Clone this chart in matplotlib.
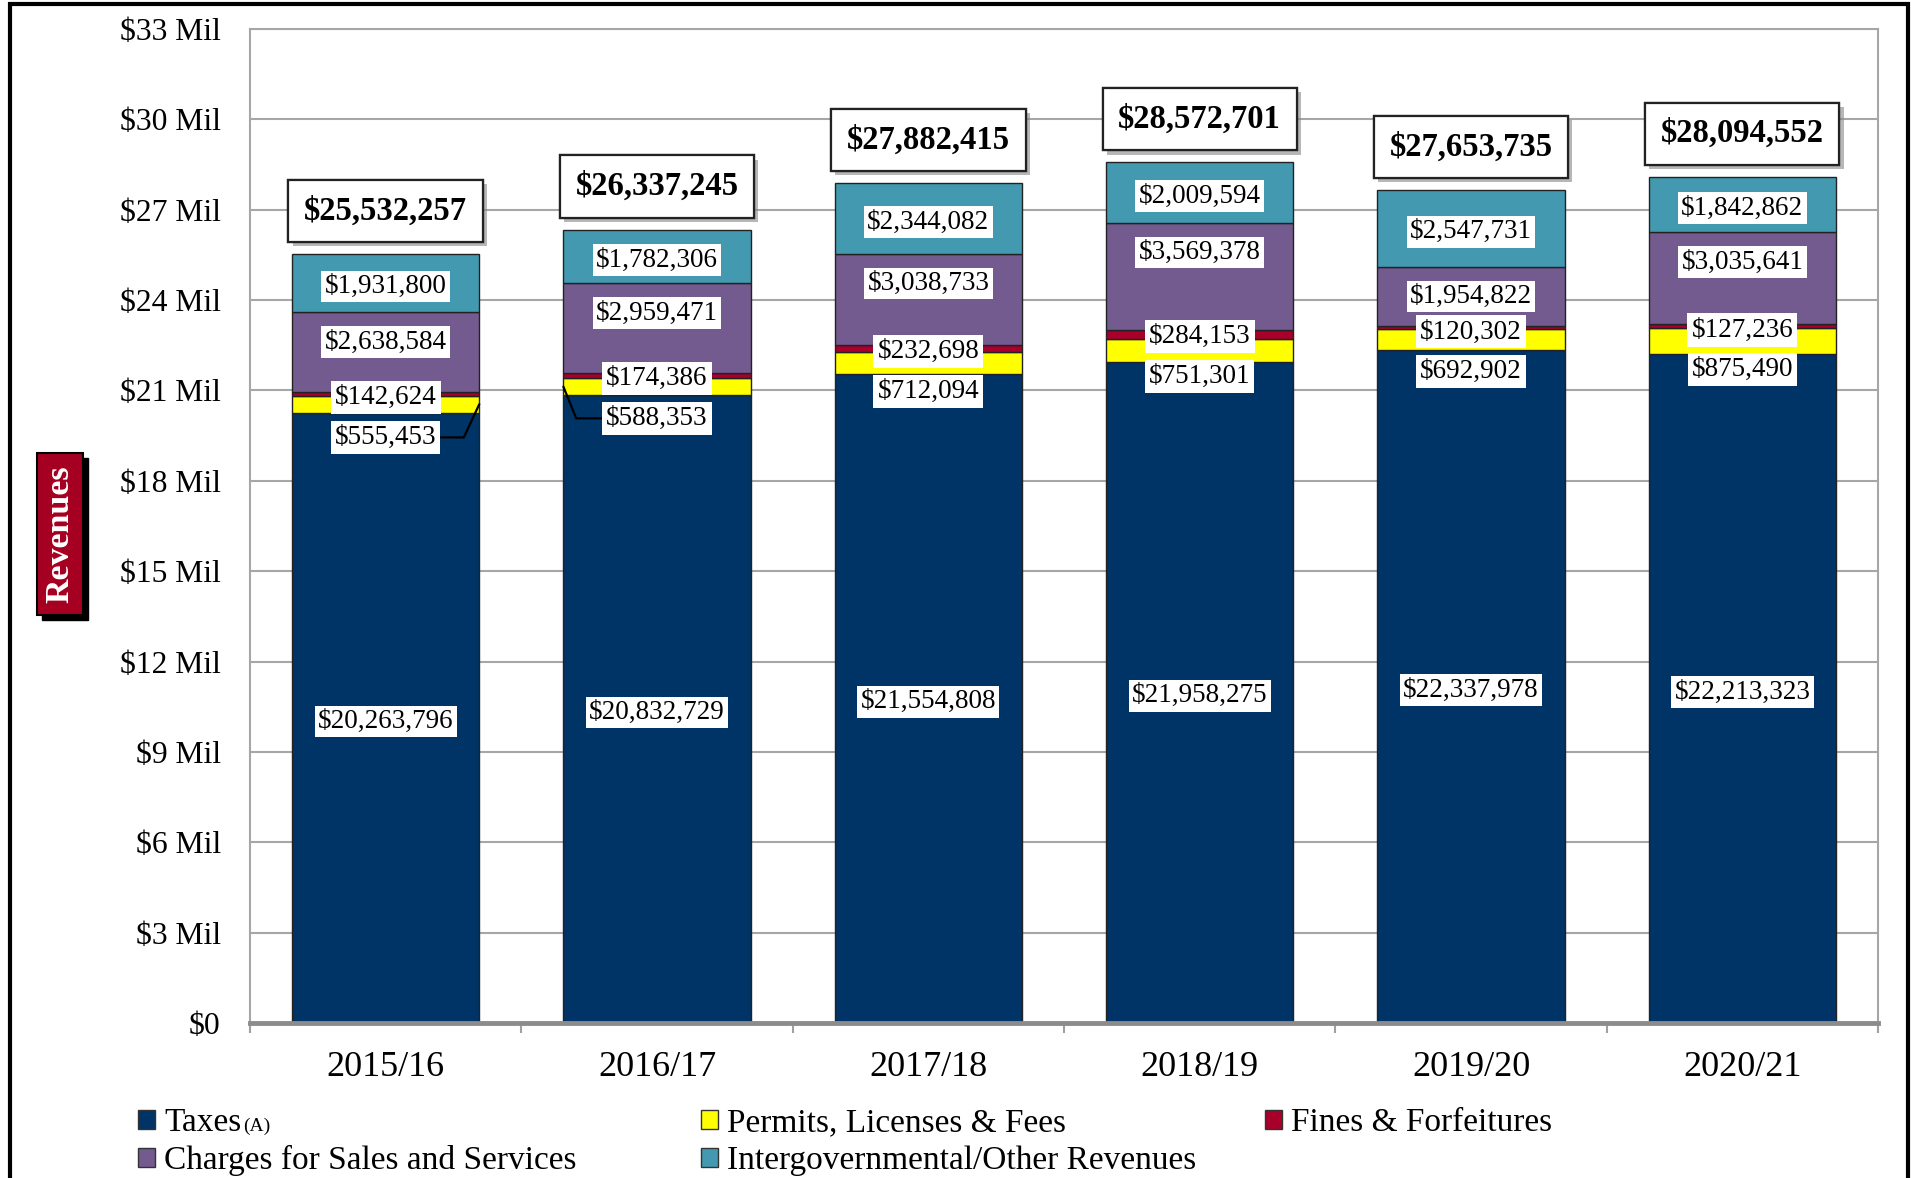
import matplotlib
matplotlib.use('Agg')
import matplotlib.pyplot as plt
import matplotlib.transforms as mtransforms
import matplotlib.patheffects as pe
from matplotlib.patches import Rectangle, Patch
import numpy as np

plt.rcParams['font.family'] = ['Liberation Serif', 'DejaVu Serif']
plt.rcParams['text.parse_math'] = False

# ---------------- data ----------------
years = ['2015/16', '2016/17', '2017/18', '2018/19', '2019/20', '2020/21']
taxes = [20263796, 20832729, 21554808, 21958275, 22337978, 22213323]
permits = [555453, 588353, 712094, 751301, 692902, 875490]
fines = [142624, 174386, 232698, 284153, 120302, 127236]
charges = [2638584, 2959471, 3038733, 3569378, 1954822, 3035641]
intergov = [1931800, 1782306, 2344082, 2009594, 2547731, 1842862]
totals = [25532257, 26337245, 27882415, 28572701, 27653735, 28094552]
series_names = ['Taxes', 'Permits, Licenses & Fees', 'Fines & Forfeitures',
                'Charges for Sales and Services', 'Intergovernmental/Other Revenues']
ytick_values = [0, 3e6, 6e6, 9e6, 12e6, 15e6, 18e6, 21e6, 24e6, 27e6, 30e6, 33e6]
ytick_labels = ['$0', '$3 Mil', '$6 Mil', '$9 Mil', '$12 Mil', '$15 Mil', '$18 Mil',
                '$21 Mil', '$24 Mil', '$27 Mil', '$30 Mil', '$33 Mil']

colors = ['#003366', '#FFFF00', '#A8002B', '#735A8F', '#4399B0']

W, H = 1911, 1178
fig = plt.figure(figsize=(W / 100, H / 100), dpi=100)
ax = fig.add_axes([250 / W, 1 - 1023 / H, (1878 - 250) / W, (1023 - 29) / H])

x = np.arange(len(years))
bw = 0.69
series = [taxes, permits, fines, charges, intergov]
bottom = np.zeros(len(years))
bottoms = []
for vals, name, col in zip(series, series_names, colors):
    bottoms.append(bottom.copy())
    ax.bar(x, vals, bw, bottom=bottom, color=col, edgecolor='#222222',
           linewidth=1.0, label=name, zorder=3)
    bottom = bottom + np.array(vals)

ax.set_xlim(-0.5, len(years) - 0.5)
ax.set_ylim(0, 33e6)
ax.set_yticks(ytick_values, ytick_labels)
ax.set_xticks(x, years)
ax.set_xticks(np.arange(-0.5, len(years), 1.0), minor=True)
ax.tick_params(axis='y', length=0, pad=21, labelsize=22.8)
ax.tick_params(axis='x', which='major', length=0, pad=20, labelsize=26)
ax.tick_params(axis='x', which='minor', length=7.5, width=1.5, color='#A0A0A0', direction='out')
ax.yaxis.grid(True, color='#A6A6A6', linewidth=1.5, zorder=0)
ax.set_axisbelow(True)
for s in ['left', 'top', 'right']:
    ax.spines[s].set_color('#A6A6A6')
    ax.spines[s].set_linewidth(1.5)
ax.spines['bottom'].set_color('#8C8C8C')
ax.spines['bottom'].set_linewidth(3.5)
ax.spines['bottom'].set_zorder(5)

seg_fs = 19.5
dy = -2.5  # small downward nudge of segment labels (points)
fmt = lambda v: f"${v:,}"


def seg_box(pad=0.12):
    return dict(boxstyle=f'square,pad={pad}', fc='white', ec='none')


for i in range(len(years)):
    # taxes centred
    ax.annotate(fmt(taxes[i]), xy=(x[i], bottoms[0][i] + taxes[i] / 2), xytext=(0, dy),
                textcoords='offset points', ha='center', va='center',
                fontsize=seg_fs, bbox=seg_box(), zorder=6)
    # intergov centred
    ax.annotate(fmt(intergov[i]), xy=(x[i], bottoms[4][i] + intergov[i] / 2), xytext=(0, dy),
                textcoords='offset points', ha='center', va='center',
                fontsize=seg_fs, bbox=seg_box(), zorder=6)
    # charges near top (inside end)
    ax.annotate(fmt(charges[i]), xy=(x[i], bottoms[3][i] + charges[i]), xytext=(0, -19 + dy),
                textcoords='offset points', ha='center', va='center', fontsize=seg_fs,
                bbox=seg_box(), zorder=6)
    # fines label at top of fines segment
    fines_top = bottoms[2][i] + fines[i]
    ax.annotate(fmt(fines[i]), xy=(x[i], fines_top), xytext=(0, -2 + dy),
                textcoords='offset points', ha='center', va='center', fontsize=seg_fs,
                bbox=seg_box(0.15), zorder=7)
    # permits label below fines label
    poff = -2 + dy - 28.5
    tc = ax.transData + mtransforms.ScaledTranslation(0, poff / 72, fig.dpi_scale_trans)
    pm_mid = bottoms[1][i] + permits[i] / 2
    if i == 0:
        ax.annotate(fmt(permits[i]), xy=(x[i] + bw / 2, pm_mid), xytext=(x[i], fines_top),
                    textcoords=tc, ha='center', va='center', fontsize=seg_fs,
                    bbox=seg_box(0.15), zorder=7,
                    arrowprops=dict(arrowstyle='-', color='black', lw=1.6, shrinkA=0, shrinkB=0,
                                    relpos=(1, 0.5),
                                    connectionstyle='angle,angleA=0,angleB=65,rad=0'))
    elif i == 1:
        ax.annotate(fmt(permits[i]), xy=(x[i] - bw / 2, pm_mid), xytext=(x[i], fines_top),
                    textcoords=tc, ha='center', va='center', fontsize=seg_fs,
                    bbox=seg_box(0.15), zorder=7,
                    arrowprops=dict(arrowstyle='-', color='black', lw=1.6, shrinkA=0, shrinkB=0,
                                    relpos=(0, 0.5),
                                    connectionstyle='angle,angleA=0,angleB=112,rad=0'))
    else:
        ax.annotate(fmt(permits[i]), xy=(x[i], fines_top), xytext=(0, poff),
                    textcoords='offset points', ha='center', va='center', fontsize=seg_fs,
                    bbox=seg_box(0.15), zorder=7)
    # total label
    t = ax.annotate(fmt(totals[i]), xy=(x[i], totals[i]), xytext=(0, 31),
                    textcoords='offset points', ha='center', va='center', fontsize=23.5,
                    fontweight='bold',
                    bbox=dict(boxstyle='square,pad=0.48', fc='white', ec='#222222', lw=1.6),
                    zorder=8)
    t.get_bbox_patch().set_path_effects([pe.withSimplePatchShadow(offset=(3, -3), shadow_rgbFace='#888888', alpha=0.6), pe.Normal()])

# ---------------- legend (three columns) ----------------
handles = [Patch(facecolor=c, edgecolor='#333333', linewidth=1) for c in colors]
leg_kw = dict(frameon=False, fontsize=24, handlelength=0.5, handleheight=0.5,
              handletextpad=0.28, labelspacing=0.2, borderpad=0, borderaxespad=0,
              loc='center left')
yc2 = 1 - 1142 / H
yc1 = 1 - 1123 / H
leg1 = fig.legend([handles[0], handles[3]], [series_names[0], series_names[3]],
                  bbox_to_anchor=(138 / W, yc2), **leg_kw)
leg2 = fig.legend([handles[1], handles[4]], [series_names[1], series_names[4]],
                  bbox_to_anchor=(701 / W, yc2), **leg_kw)
leg3 = fig.legend([handles[2]], [series_names[2]],
                  bbox_to_anchor=(1265 / W, yc1), **leg_kw)

# ---------------- "Revenues" tag ----------------
bx0, bx1, by0, by1 = 37, 83, 453, 615
fig.patches.append(Rectangle(((bx0 + 5) / W, 1 - (by1 + 5) / H), (bx1 - bx0) / W, (by1 - by0) / H,
                             transform=fig.transFigure, fc='black', ec='black', zorder=1))
fig.patches.append(Rectangle((bx0 / W, 1 - by1 / H), (bx1 - bx0) / W, (by1 - by0) / H,
                             transform=fig.transFigure, fc='#A50021', ec='black', lw=1.5, zorder=2))
fig.text((bx0 + bx1) / 2 / W, 1 - (by0 + by1) / 2 / H, 'Revenues', rotation=90, color='white',
         fontsize=24.5, fontweight='bold', ha='center', va='center', zorder=3)

# outer frame
fig.patches.append(Rectangle((10 / W, -0.05), (1908 - 10) / W, 1.05 - 4 / H,
                             transform=fig.transFigure, fill=False, ec='black', lw=3, zorder=0))

# "(A)" after Taxes in legend
fig.canvas.draw()
r = fig.canvas.get_renderer()
ext = leg1.get_texts()[0].get_window_extent(r)
fig.text((ext.x1 + 2) / W, (ext.y0 + 7) / H, '(A)', fontsize=14, ha='left', va='baseline')

fig.savefig('out.png', dpi=100)
